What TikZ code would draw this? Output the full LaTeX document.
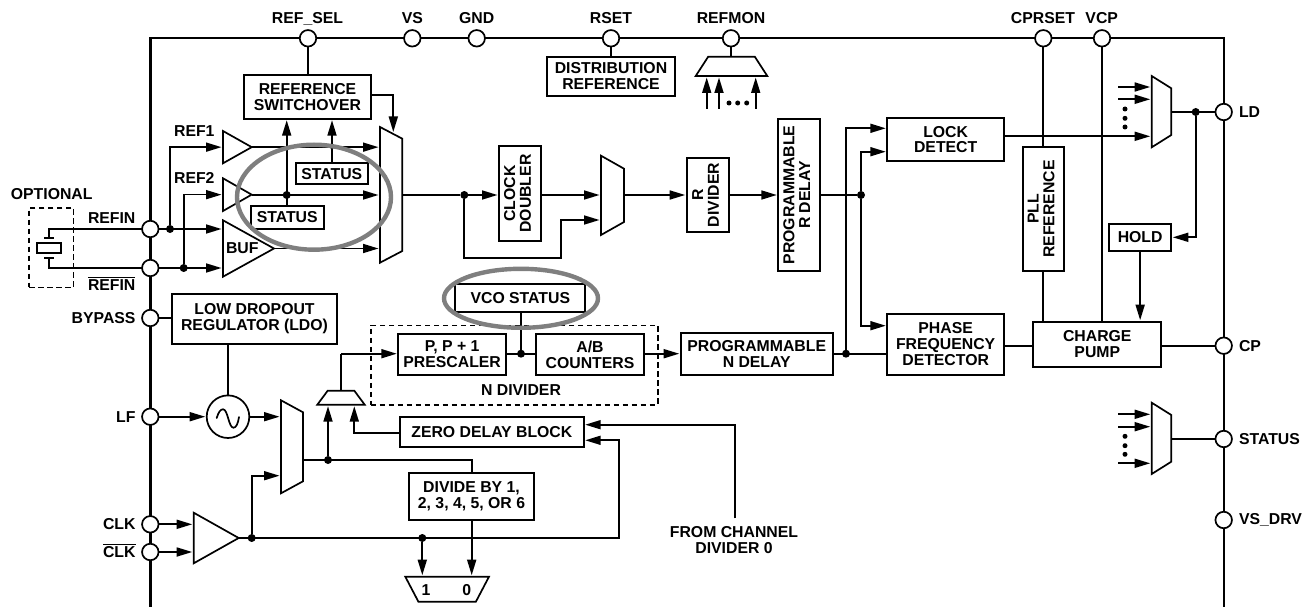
\documentclass[tikz,border=0pt]{standalone}
\usepackage{fontspec}
\setmainfont{Liberation Sans}
\usetikzlibrary{arrows.meta,shapes.geometric}
\definecolor{hl}{HTML}{7F7F7F}
\newcommand\ovl[1]{\leavevmode\vbox{\hrule height 1.2pt\kern 1.3pt\hbox{#1}}}
\newcommand\rotl[1]{\rotatebox{90}{\begin{tabular}{@{}c@{}}#1\end{tabular}}}
\tikzset{
  every node/.style={inner sep=0pt,outer sep=0pt,font=\fontsize{15.8}{15.8}\selectfont\bfseries},
  blk/.style={draw,line width=1.8pt,fill=white,align=center},
  wire/.style={line width=1.7pt},
  arr/.style={line width=1.7pt,-{Triangle[length=15.5pt,width=9pt]},shorten >=1.5pt},
  pinc/.style={circle,draw,line width=1.7pt,fill=white,minimum size=16.5pt},
  dotj/.style={circle,fill=black,minimum size=8pt},
  dotk/.style={circle,fill=black,minimum size=4pt},
  framel/.style={line width=2.4pt},
  dash box/.style={draw,line width=1.6pt,dash pattern=on 5.5pt off 3.5pt},
  hlring/.style={ellipse,draw=hl,line width=4.4pt},
  lab/.style={align=center},
  outl/.style={draw,line width=1.7pt,fill=white,line join=miter},
  ghost/.style={rectangle},
}
\newcommand\bx[6]{\node[blk,minimum width={(#4)-(#2)},minimum height={(#5)-(#3)}] (#1) at ({((#2)+(#4))/2},{((#3)+(#5))/2}) {#6};}
% vertical mux: wide side on the left
\newcommand\mv[6]{\path[outl] (#2,#3) -- (#4,{(#3)+(#6)}) -- (#4,{(#5)-(#6)}) -- (#2,#5) -- cycle;
  \node[ghost,minimum height={(#5)-(#3)},minimum width={(#4)-(#2)}] (#1) at ({((#2)+(#4))/2},{((#3)+(#5))/2}) {};}
% horizontal mux: name, wide left, wide right, narrow-side y, wide-side y, inset
\newcommand\mh[6]{\path[outl] (#2,#5) -- ({(#2)+(#6)},#4) -- ({(#3)-(#6)},#4) -- (#3,#5) -- cycle;
  \node[ghost,minimum width={(#3)-(#2)},minimum height={abs((#5)-(#4))}] (#1) at ({((#2)+(#3))/2},{((#4)+(#5))/2}) {};}
% triangle: name, base x, top y, bottom y, tip x
\newcommand\tr[5]{\path[outl] (#2,#3) -- (#5,{((#3)+(#4))/2}) -- (#2,#4) -- cycle;
  \node[ghost,minimum width={(#5)-(#2)},minimum height={(#4)-(#3)}] (#1) at ({((#2)+(#5))/2},{((#3)+(#4))/2}) {};}
\begin{document}
\begin{tikzpicture}[x=1pt,y=-1pt]
\useasboundingbox (0,0) rectangle (1310,607);
% frame
\coordinate (fbl) at (150.3,607);
\coordinate (ftl) at (150.3,38.3);
\coordinate (ftr) at (1223.7,38.3);
\coordinate (fbr) at (1223.7,607);
\draw[framel] (fbl) -- (ftl) -- (ftr) -- (fbr);
% dashed
\node[dash box,minimum width=44.3pt,minimum height=79.6pt] (optbox) at (51.2,247.5) {};
\node[dash box,minimum width=287pt,minimum height=79.4pt] (ndiv) at (514.2,365) {};
% blocks
\bx{sw}{244.3}{74.7}{370.7}{118.7}{REFERENCE\\SWITCHOVER}
\bx{st1}{295.7}{163.3}{368}{184.3}{STATUS}
\bx{st2}{250.7}{206}{323.7}{228.7}{STATUS}
\bx{dist}{546.7}{57}{675.3}{95.7}{DISTRIBUTION\\REFERENCE}
\bx{dbl}{499}{145.7}{540.7}{241.3}{\rotl{CLOCK\\DOUBLER}}
\bx{rdiv}{686.7}{158.3}{729}{231.7}{\rotl{R\\DIVIDER}}
\bx{rdel}{778.3}{119}{820}{271}{\rotl{PROGRAMMABLE\\R DELAY}}
\bx{lock}{887.3}{118.3}{1004}{160.7}{LOCK\\DETECT}
\bx{pll}{1023}{147.3}{1063.6}{270.7}{\rotl{PLL\\REFERENCE}}
\bx{hold}{1109}{224}{1171.3}{250.7}{HOLD}
\bx{pfd}{887.3}{313.7}{1004}{374.7}{PHASE\\FREQUENCY\\DETECTOR}
\bx{cpump}{1033.3}{321.7}{1161.3}{366.7}{CHARGE\\PUMP}
\bx{ndel}{680.7}{333.3}{832.7}{374.7}{PROGRAMMABLE\\N DELAY}
\bx{vcost}{455.3}{284}{585.3}{312.3}{VCO STATUS}
\bx{pres}{398.3}{333.7}{506}{375.3}{P, P + 1\\PRESCALER}
\bx{abc}{536}{333.7}{644}{375.3}{A/B\\COUNTERS}
\bx{ldo}{172.3}{294}{336.7}{343.7}{LOW DROPOUT\\REGULATOR (LDO)}
\bx{zero}{400}{416.7}{583.7}{447}{ZERO DELAY BLOCK}
\bx{divb}{409}{472.7}{534}{520}{DIVIDE BY 1,\\2, 3, 4, 5, OR 6}
% crystal
\node[blk,line width=1.7pt,minimum width=24.3pt,minimum height=10pt] (xtal) at (48.9,247.7) {};
\coordinate (xtu) at (48.9,238.3);
\coordinate (xtl) at (48.9,257.7);
\coordinate (xtua) at (44.3,238.3);
\coordinate (xtub) at (54,238.3);
\coordinate (xtla) at (44.3,257.7);
\coordinate (xtlb) at (54,257.7);
% buffers
\tr{buf1}{223}{131}{163.3}{251.7}
\tr{buf2}{223}{178.3}{211}{251.7}
\tr{buf3}{223}{220.3}{276.7}{274}
\tr{buf4}{193.7}{512.7}{563.3}{238.7}
\node[lab] (buflab) at (242.3,248.4) {BUF};
% muxes
\mv{mux1}{380}{127}{402.3}{262.7}{11.7}
\mv{mux2}{281}{400.3}{303}{493.3}{12}
\mv{mux3}{601}{155.7}{624}{235}{13}
\mv{muxld}{1151.7}{76}{1171.3}{147.3}{12.3}
\mv{muxst}{1151.7}{402.7}{1171.3}{474}{12.3}
\mh{muxrm}{695.7}{767.3}{56.7}{76}{12.5}
\mh{muxn}{317.3}{364.7}{390.7}{404.7}{10.4}
\mh{muxb}{405.3}{489}{601.7}{576.7}{13.1}
\node[lab] (mb1) at (426,590) {1};
\node[lab] (mb0) at (466.7,590) {0};
% VCO
\node[circle,draw,line width=1.7pt,fill=white,minimum size=42.6pt] (vco) at (228,416.7) {};
\draw[wire,line cap=round] (216.7,418) .. controls (218.5,412) and (220.5,409.3) .. (223,409.3) .. controls (228,409.3) and (228.5,427.7) .. (233.5,427.7) .. controls (236,427.7) and (238,424) .. (239,417);
% pins
\foreach \n/\x/\y in {refsel/308/38.3,vs/412.3/38.3,gnd/476.7/38.3,rset/611/38.3,refmon/731/38.3,cprset/1043.3/38.3,vcp/1102/38.3,
  refin/150.3/229,refinb/150.3/268,bypass/150.3/318,lf/150.3/416.7,clk/150.3/524.3,clkb/150.3/552,
  ld/1223.7/112,cp/1223.7/345.7,stp/1223.7/439,vsdrv/1223.7/520}
  {\node[pinc] (\n) at (\x,\y) {};}
% labels
\node[lab] (lrefsel) at (307.5,18.5) {REF\_SEL};
\node[lab] (lvs) at (412.3,18.5) {VS};
\node[lab] (lgnd) at (476.7,18.5) {GND};
\node[lab] (lrset) at (611,18.5) {RSET};
\node[lab] (lrefmon) at (731,18.5) {REFMON};
\node[lab] (lcprset) at (1043,18.5) {CPRSET};
\node[lab] (lvcp) at (1101.7,18.5) {VCP};
\node[lab] (lopt) at (51.7,194.3) {OPTIONAL};
\node[lab] (lrefin) at (111.7,217.7) {REFIN};
\node[lab,anchor=base] (lrefinb) at (111.7,290) {\ovl{REFIN}};
\node[lab] (lref1) at (194.3,130.7) {REF1};
\node[lab] (lref2) at (194.3,178.3) {REF2};
\node[lab,anchor=east] (lbyp) at (135.5,318) {BYPASS};
\node[lab,anchor=east] (llf) at (135.5,416.7) {LF};
\node[lab,anchor=east] (lclk) at (135.5,524.3) {CLK};
\node[lab,anchor=base east] (lclkb) at (135.5,557.5) {\ovl{CLK}};
\node[lab,anchor=west] (lld) at (1239,112.5) {LD};
\node[lab,anchor=west] (lcp) at (1239,346) {CP};
\node[lab,anchor=west] (lst) at (1239,439) {STATUS};
\node[lab,anchor=west] (lvsd) at (1239,520) {VS\_DRV};
\node[lab] (lnd) at (521,390.3) {N DIVIDER};
\node[lab] (lfrom) at (734,540.3) {FROM CHANNEL\\DIVIDER 0};
% junctions
\node[dotj] (j1) at (170,229) {};
\node[dotj] (j2) at (183.7,268) {};
\node[dotj] (j3) at (286.7,195) {};
\node[dotk] (j4) at (332,147.1) {};
\node[dotj] (j5) at (464.3,195) {};
\node[dotj] (j6) at (861,195) {};
\node[dotj] (j7) at (846,353.7) {};
\node[dotj] (j8) at (521,353.7) {};
\node[dotj] (j9) at (328,460) {};
\node[dotj] (j10) at (251.7,538) {};
\node[dotj] (j11) at (422.3,538) {};
\node[dotj] (j12) at (1195.7,112) {};
% top wires
\draw[wire] (refsel) -- (refsel |- sw.north);
\draw[wire] (rset) -- (rset |- dist.north);
\draw[wire] (refmon) -- (refmon |- muxrm.north);
\draw[wire] (cprset) -- (cprset |- pll.north);
\draw[wire] (cprset |- pll.south) -- (cprset |- cpump.north);
\draw[wire] (vcp) -- (vcp |- cpump.north);
% crystal wires
\draw[wire] (refin) -| (xtu);
\draw[wire] (refinb) -| (xtl);
\draw[wire] (xtua) -- (xtub);
\draw[wire] (xtla) -- (xtlb);
% reference inputs
\draw[arr] (refin) -- (refin -| buf3.west);
\draw[arr] (refinb) -- (refinb -| buf3.west);
\draw[arr] (j1) |- (buf1.west);
\draw[arr] (j2) |- (buf2.west);
\draw[arr] (buf1.east) -- (buf1.east -| mux1.west);
\draw[arr] (j3 -| buf2.east) -- (j3 -| mux1.west);
\draw[arr] (buf3.east) -- (buf3.east -| mux1.west);
\draw[arr] (st2.north -| j3) -- (j3 |- sw.south);
\draw[arr] (st1.north -| j4) -- (j4 |- sw.south);
\coordinate (swo) at (370.7,95);
\coordinate (swd) at (393.3,134.5);
\draw[arr,shorten >=2.5pt] (swo) -| (swd);
% ref path
\draw[wire] (j5 -| mux1.east) -- (j5);
\draw[arr] (j5) -- (j5 -| dbl.west);
\draw[arr] (j5 -| dbl.east) -- (j5 -| mux3.west);
\coordinate (byb) at (464.3,258.3);
\coordinate (byr) at (561,258.3);
\coordinate (byt) at (561,220);
\draw[arr] (j5) -- (byb) -- (byr) -- (byt) -- (byt -| mux3.west);
\draw[arr] (j5 -| mux3.east) -- (j5 -| rdiv.west);
\draw[arr] (j5 -| rdiv.east) -- (j5 -| rdel.west);
\draw[wire] (j6 -| rdel.east) -- (j6);
\coordinate (lk1) at (846,128.3);
\coordinate (lk2) at (861,151.7);
\coordinate (pf2) at (861,325.7);
\draw[arr] (j7) -- (lk1) -- (lk1 -| lock.west);
\draw[arr] (j6) -- (lk2) -- (lk2 -| lock.west);
\draw[arr] (j6) -- (pf2) -- (pf2 -| pfd.west);
\coordinate (nde) at (832.7,353.7);
\draw[wire] (nde) -- (nde -| pfd.west);
\coordinate (pfo) at (1004,345.7);
\draw[wire] (pfo) -- (pfo -| cpump.west);
\draw[wire] (cp) -- (cp -| cpump.east);
\coordinate (lko) at (1004,136.3);
\draw[arr] (lko) -- (lko -| muxld.west);
\draw[wire] (ld -| muxld.east) -- (ld);
\coordinate (hr) at (1195.7,237.3);
\draw[arr] (j12) -- (hr) -- (hr -| hold.east);
\draw[arr] (hold.south) -- (hold.south |- cpump.north);
% mux inputs right
\foreach \m/\a/\b/\dA/\dB/\dC in {muxld/87/99.3/109/118.3/127,muxst/414.3/426.7/436.3/445.7/454.3}{
  \coordinate (\m a) at (1118.3,\a);
  \coordinate (\m b) at (1118.3,\b);
  \draw[arr] (\m a) -- (\m a -| \m.west);
  \draw[arr] (\m b) -- (\m b -| \m.west);
  \node[dotk,minimum size=5pt] (\m d1) at (1125,\dA) {};
  \node[dotk,minimum size=5pt] (\m d2) at (1125,\dB) {};
  \node[dotk,minimum size=5pt] (\m d3) at (1125,\dC) {};
}
\coordinate (muxstc) at (1118.3,463.3);
\draw[arr] (muxstc) -- (muxstc -| muxst.west);
\draw[wire] (stp -| muxst.east) -- (stp);
% refmon inputs
\foreach \i/\x in {a/706.7,b/719,c/755.7}{
  \coordinate (rm\i) at (\x,109);
  \draw[arr] (rm\i) -- (rm\i |- muxrm.south);
}
\foreach \i/\x in {a/729,b/737.7,c/746.7}{\node[dotk,minimum size=5pt] (rmd\i) at (\x,103) {};}
% N path
\draw[wire] (bypass) -- (bypass -| ldo.west);
\draw[wire] (vco |- ldo.south) -- (vco.north);
\draw[arr] (lf) -- (vco.west);
\draw[arr] (vco.east) -- (vco.east -| mux2.west);
\coordinate (mno) at (303,460);
\coordinate (mnr) at (471.7,460);
\draw[wire] (mno) -- (mnr) -- (mnr |- divb.north);
\draw[arr] (j9) -- (j9 |- muxn.south);
\coordinate (mnu) at (341,353.7);
\draw[wire] (muxn.north) -- (mnu);
\draw[arr] (mnu) -- (mnu -| pres.west);
\coordinate (zl) at (354.3,432.7);
\draw[arr] (zl -| zero.west) -- (zl) -- (zl |- muxn.south);
\draw[wire] (vcost.south -| j8) -- (j8);
\draw[wire] (pres.east |- j8) -- (abc.west |- j8);
\coordinate (abo) at (644,353.7);
\draw[arr] (abo) -- (abo -| ndel.west);
\draw[arr] (clk) -- (clk -| buf4.west);
\draw[arr] (clkb) -- (clkb -| buf4.west);
\coordinate (cko) at (618.7,538);
\coordinate (ckt) at (618.7,440.3);
\draw[arr] (buf4.east) -- (cko) -- (ckt) -- (ckt -| zero.east);
\coordinate (mi2) at (251.7,475.7);
\draw[arr] (j10) -- (mi2) -- (mi2 -| mux2.west);
\draw[arr] (j11) -- (j11 |- muxb.north);
\coordinate (dvo) at (471.7,520);
\draw[arr] (dvo) -- (dvo |- muxb.north);
\coordinate (fc) at (735,518.3);
\coordinate (ft) at (735,424.7);
\draw[arr] (fc) -- (ft) -- (ft -| zero.east);
% highlight rings
\node[hlring,minimum width=154pt,minimum height=105pt] (ring1) at (314,197.2) {};
\node[hlring,minimum width=154pt,minimum height=59pt] (ring2) at (521,298.3) {};
\end{tikzpicture}
\end{document}
